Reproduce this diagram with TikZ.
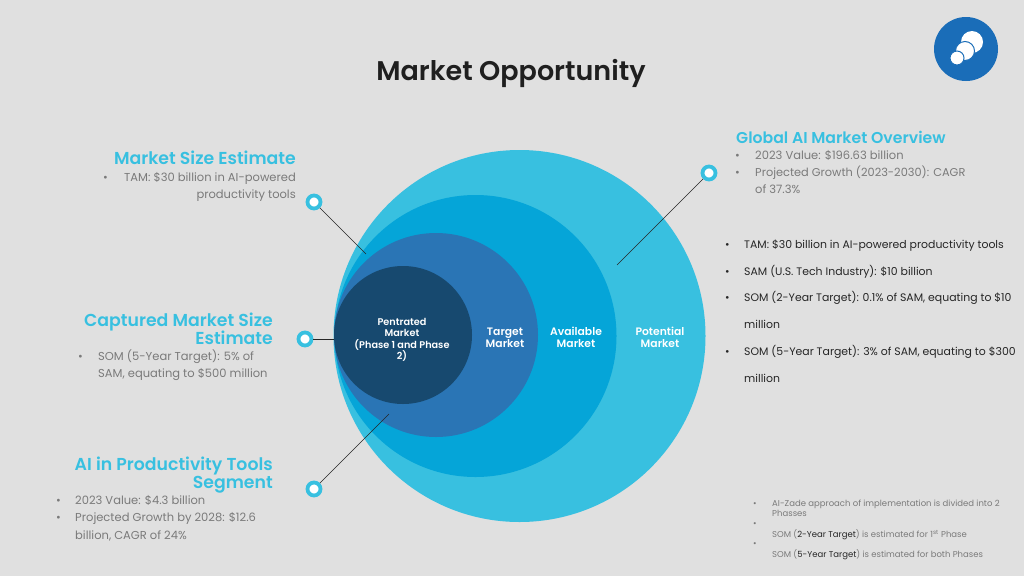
\documentclass[tikz,border=0pt]{standalone}
\usepackage{fontspec}
\setmainfont{Poppins}[BoldFont={Poppins SemiBold}]
\definecolor{pagegrey}{HTML}{E0E0E0}
\definecolor{potentialblue}{HTML}{38C0E0}
\definecolor{availableblue}{HTML}{05A5D8}
\definecolor{targetblue}{HTML}{2A75B5}
\definecolor{pentratedblue}{HTML}{17496F}
\definecolor{logoblue}{HTML}{1A6DB8}
\definecolor{greytext}{HTML}{7A7A7A}
\definecolor{darktext}{HTML}{262626}
\tikzset{
  line/.style={inner sep=0pt,text depth=0pt,text height=8.6pt},
  heading/.style={line,text height=13pt,font=\fontsize{17.3}{20}\selectfont\bfseries,text=potentialblue},
  greyline/.style={line,anchor=west,font=\fontsize{11.5}{13}\selectfont,text=greytext},
  darkline/.style={line,text height=8.4pt,anchor=west,font=\fontsize{10.9}{13}\selectfont,text=darktext},
  smallline/.style={line,text height=7pt,anchor=west,font=\fontsize{8.5}{10}\selectfont,text=greytext},
  inmarket/.style={line,text height=7pt,font=\fontsize{10.8}{12}\selectfont\bfseries,text=white},
  inpentrated/.style={inmarket,font=\fontsize{9.7}{11}\selectfont\bfseries},
  marker/.style={circle,draw=potentialblue,line width=3.8pt,fill=white,minimum size=13pt,inner sep=0pt},
  leader/.style={draw=black!85,line width=.6pt}
}
\begin{document}
\begin{tikzpicture}[x=1pt,y=-1pt]
    \useasboundingbox[fill=pagegrey] (0,0) rectangle (1024,576);
    % logo
    \fill[logoblue] (966,49) circle (32);
    \fill[white] (972,42) circle (11);
    \fill[white,draw=logoblue,line width=1pt] (965,51) circle (9.5);
    \fill[white,draw=logoblue,line width=1pt] (957,58) circle (7);
    \node[line,text height=19pt,font=\fontsize{27}{30}\selectfont\bfseries,text=black!88] (title) at (511,71) {Market Opportunity};
    % market circles
    \node[circle,fill=potentialblue,minimum size=372pt,inner sep=0pt] (potential) at (519.5,336) {};
    \node[circle,fill=availableblue,minimum size=282pt,inner sep=0pt] (available) at (475.5,336) {};
    \node[circle,fill=targetblue,minimum size=204pt,inner sep=0pt] (target) at (436,335) {};
    \node[circle,fill=pentratedblue,minimum size=138pt,inner sep=0pt] (pentrated) at (403,335) {};
    \node[inpentrated] (p1) at (402,322) {Pentrated};
    \node[inpentrated] (p2) at (402,333) {Market};
    \node[inpentrated] (p3) at (402,345) {(Phase 1 and Phase};
    \node[inpentrated] (p4) at (402,356) {2)};
    \node[inmarket] (t1) at (505,332) {Target};
    \node[inmarket] (t2) at (505,344) {Market};
    \node[inmarket] (a1) at (576,332) {Available};
    \node[inmarket] (a2) at (576,344) {Market};
    \node[inmarket] (o1) at (660,332) {Potential};
    \node[inmarket] (o2) at (660,344) {Market};
    % markers and leaders
    \node[marker] (msize) at (314,202) {};
    \node[marker] (mcapt) at (305,339) {};
    \node[marker] (mtool) at (314,489) {};
    \node[marker] (mglob) at (709,173) {};
    \coordinate (esize) at (366,254);
    \coordinate (ecapt) at (334,339);
    \coordinate (etool) at (389,414);
    \coordinate (eglob) at (617,265);
    \draw[leader] (msize) -- (esize);
    \draw[leader] (mcapt) -- (ecapt);
    \draw[leader] (mtool) -- (etool);
    \draw[leader] (mglob) -- (eglob);
    % market size
    \node[heading,anchor=east] (h1) at (296,158) {Market Size Estimate};
    \node[greyline] (b1) at (103,177) {•};
    \node[greyline,anchor=east] (s1) at (296,177) {TAM: \$30 billion in AI-powered};
    \node[greyline,anchor=east] (s2) at (296,194) {productivity tools};
    % captured
    \node[heading,anchor=east] (h2) at (273,320) {Captured Market Size};
    \node[heading,anchor=east] (h3) at (273,338) {Estimate};
    \node[greyline] (b2) at (78,356) {•};
    \node[greyline] (c1) at (98,356) {SOM (5-Year Target): 5\% of};
    \node[greyline] (c2) at (98,373) {SAM, equating to \$500 million};
    % productivity tools
    \node[heading,anchor=east] (h4) at (273,464) {AI in Productivity Tools};
    \node[heading,anchor=east] (h5) at (273,482) {Segment};
    \node[greyline] (b3) at (56,500) {•};
    \node[greyline] (d1) at (75,500) {2023 Value: \$4.3 billion};
    \node[greyline] (b4) at (56,517) {•};
    \node[greyline] (d2) at (75,517) {Projected Growth by 2028: \$12.6};
    \node[greyline] (d3) at (75,535) {billion, CAGR of 24\%};
    % global
    \node[heading,anchor=west,font=\fontsize{15.7}{18}\selectfont\bfseries] (h6) at (736,137) {Global AI Market Overview};
    \node[greyline] (b5) at (735,155) {•};
    \node[greyline] (g1) at (755,155) {2023 Value: \$196.63 billion};
    \node[greyline] (b6) at (735,172) {•};
    \node[greyline,font=\fontsize{11.35}{13}\selectfont] (g2) at (755,172) {Projected Growth (2023-2030): CAGR};
    \node[greyline] (g3) at (755,189) {of 37.3\%};
    % targets
    \node[darkline] (b7) at (725,244) {•};
    \node[darkline] (m1) at (744,244) {TAM: \$30 billion in AI-powered productivity tools};
    \node[darkline] (b8) at (725,271) {•};
    \node[darkline] (m2) at (744,271) {SAM (U.S. Tech Industry): \$10 billion};
    \node[darkline] (b9) at (725,297) {•};
    \node[darkline] (m3) at (744,297) {SOM (2-Year Target): 0.1\% of SAM, equating to \$10};
    \node[darkline] (m4) at (744,324) {million};
    \node[darkline] (b10) at (725,351) {•};
    \node[darkline] (m5) at (744,351) {SOM (5-Year Target): 3\% of SAM, equating to \$300};
    \node[darkline] (m6) at (744,378) {million};
    % phases
    \node[smallline] (b11) at (753,503) {•};
    \node[smallline] (n1) at (772,503) {AI-Zade approach of implementation is divided into 2};
    \node[smallline] (n2) at (772,513) {Phasses};
    \node[smallline] (b12) at (753,523) {•};
    \node[smallline] (n3) at (772,534) {SOM (\textcolor{darktext}{2-Year Target}) is estimated for 1\textsuperscript{st} Phase};
    \node[smallline] (b13) at (753,543) {•};
    \node[smallline] (n4) at (772,554) {SOM (\textcolor{darktext}{5-Year Target}) is estimated for both Phases};
\end{tikzpicture}
\end{document}
